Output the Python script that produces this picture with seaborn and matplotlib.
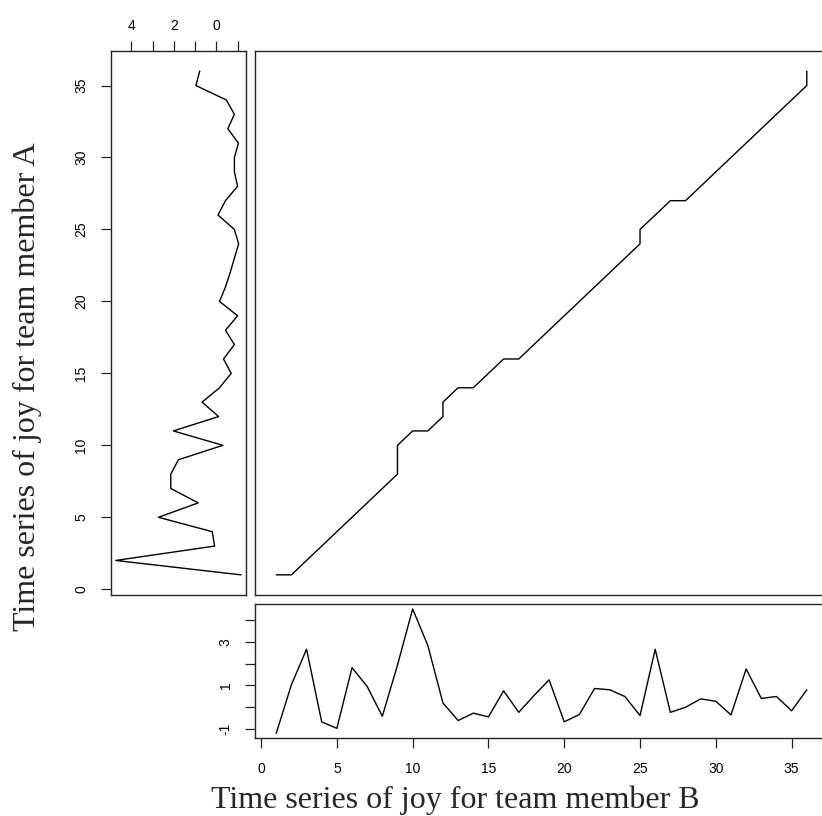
import matplotlib
matplotlib.use("Agg")
import matplotlib.pyplot as plt
import seaborn as sns
import numpy as np
import pandas as pd

# Joy time series, one value per time step (1..36)
joy_a = [-1.16, 4.73, 0.08, 0.19, 2.72, 0.85, 2.14, 2.14, 1.78, -0.31,
         2.02, -0.11, 0.67, -0.15, -0.70, -0.34, -0.85, -0.43, -1.00, -0.15,
         -0.43, -0.65, -0.85, -1.05, -0.85, -0.08, -0.43, -1.00, -0.85, -0.85,
         -1.04, -0.54, -0.85, -0.47, 0.96, 0.78]
joy_b = [-1.22, 1.02, 2.66, -0.69, -0.99, 1.81, 0.94, -0.43, 1.93, 4.52,
         2.84, 0.18, -0.63, -0.29, -0.46, 0.74, -0.25, 0.52, 1.25, -0.69,
         -0.35, 0.85, 0.79, 0.48, -0.40, 2.66, -0.25, -0.02, 0.37, 0.26,
         -0.37, 1.75, 0.39, 0.48, -0.18, 0.79]
steps = list(range(1, 37))

# Warping path: matched indices (member B, member A)
path_b = [1, 2, 3, 4, 5, 6, 7, 8, 9, 9, 9, 10, 11, 12, 12, 13, 14, 15, 16, 17,
          18, 19, 20, 21, 22, 23, 24, 25, 25, 26, 27, 28, 29, 30, 31, 32, 33,
          34, 35, 36, 36]
path_a = [1, 1, 2, 3, 4, 5, 6, 7, 8, 9, 10, 11, 11, 12, 13, 14, 14, 15, 16, 16,
          17, 18, 19, 20, 21, 22, 23, 24, 25, 26, 27, 27, 28, 29, 30, 31, 32,
          33, 34, 35, 36]

step_ticks = [0, 5, 10, 15, 20, 25, 30, 35]
a_ticks = [4, 3, 2, 1, 0, -1]
a_tick_labels = ["4", "", "2", "", "0", ""]
b_ticks = [-1, 0, 1, 2, 3, 4]
b_tick_labels = ["-1", "", "1", "", "3", ""]

xlabel_text = "Time series of joy for team member B"
ylabel_text = "Time series of joy for team member A"

sns.set_style("white")
plt.rcParams["font.family"] = ["Liberation Sans", "DejaVu Sans"]
plt.rcParams["axes.edgecolor"] = "#222222"
plt.rcParams["axes.linewidth"] = 1.0


def padded(vals):
    lo, hi = min(vals), max(vals)
    d = (hi - lo) * 0.04
    return lo - d, hi + d


W, H = 822, 816
fig = plt.figure(figsize=(W / 100, H / 100), dpi=100)
fig.patch.set_facecolor("white")


def box(x0, y0, x1, y1):
    # pixel box (top-left origin) -> figure fraction rect
    return [x0 / W, 1 - y1 / H, (x1 - x0) / W, (y1 - y0) / H]


ax_main = fig.add_axes(box(255, 51, 828, 595))
ax_left = fig.add_axes(box(110.7, 51, 246, 595))
ax_bot = fig.add_axes(box(255, 604, 828, 738.3))

line_kw = dict(color="black", linewidth=1.0, sort=False, estimator=None)

df_path = pd.DataFrame({"b": path_b, "a": path_a})
sns.lineplot(data=df_path, x="b", y="a", ax=ax_main, **line_kw)

df_a = pd.DataFrame({"joy": joy_a, "t": steps})
sns.lineplot(data=df_a, x="joy", y="t", ax=ax_left, orient="y", **line_kw)

df_b = pd.DataFrame({"t": steps, "joy": joy_b})
sns.lineplot(data=df_b, x="t", y="joy", ax=ax_bot, **line_kw)

t_lim = padded(steps)
a_lim = padded(joy_a)
b_lim = padded(joy_b)

ax_main.set_xlim(t_lim)
ax_main.set_ylim(t_lim)
ax_main.set_xticks([])
ax_main.set_yticks([])

ax_left.set_ylim(t_lim)
ax_left.set_xlim(a_lim[1], a_lim[0])
ax_left.xaxis.tick_top()
ax_left.set_xticks(a_ticks)
ax_left.set_xticklabels(a_tick_labels)
ax_left.set_yticks(step_ticks)
ax_left.set_yticklabels([str(v) for v in step_ticks], rotation=90, va="center")

ax_bot.set_xlim(t_lim)
ax_bot.set_ylim(b_lim)
ax_bot.set_xticks(step_ticks)
ax_bot.set_xticklabels([str(v) for v in step_ticks])
ax_bot.set_yticks(b_ticks)
ax_bot.set_yticklabels(b_tick_labels, rotation=90, va="center")

for ax in (ax_main, ax_left, ax_bot):
    ax.set_xlabel("")
    ax.set_ylabel("")
    for s in ax.spines.values():
        s.set_visible(True)
        s.set_color("#222222")
        s.set_linewidth(1.0)
    ax.tick_params(direction="out", length=7, width=0.9, color="#222222",
                   labelsize=10, labelcolor="black", pad=7)

ax_left.tick_params(axis="x", top=True, bottom=False, pad=6)
ax_left.tick_params(axis="y", left=True, pad=9)
ax_bot.tick_params(axis="x", bottom=True, pad=10)
ax_bot.tick_params(axis="y", left=True, pad=9)

# Axis titles, anchored on their baselines
fig.text(455 / W, 1 - 808 / H, xlabel_text, ha="center", va="baseline",
         fontsize=23, family="Liberation Serif")
fig.text(35 / W, 1 - 387 / H, ylabel_text, ha="center", va="baseline",
         rotation=90, rotation_mode="anchor", fontsize=23,
         family="Liberation Serif")

fig.savefig("out.png", dpi=100, facecolor="white")
